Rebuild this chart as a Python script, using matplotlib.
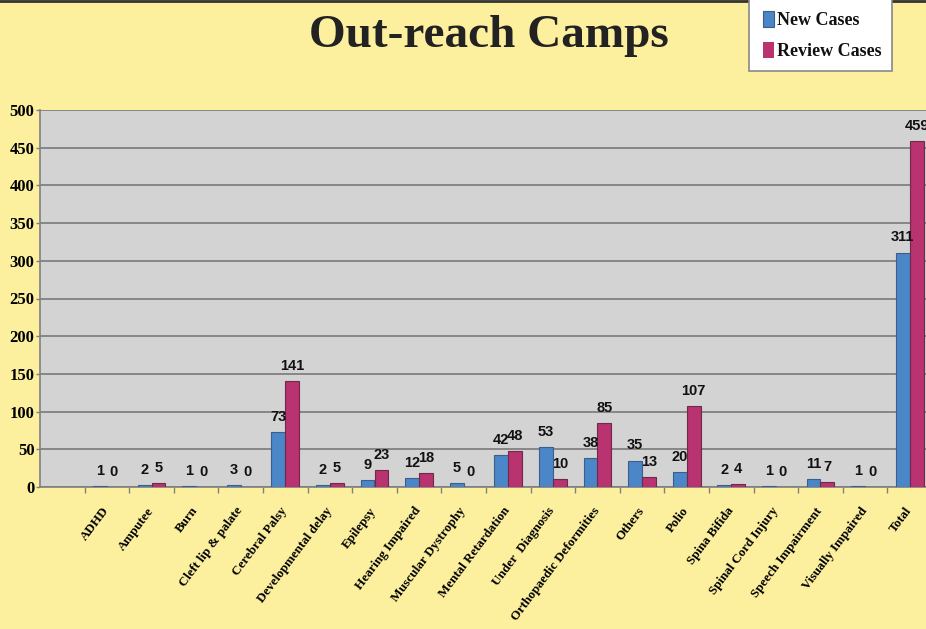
import matplotlib
matplotlib.use("Agg")
import matplotlib.pyplot as plt
import matplotlib.transforms as mtransforms
import numpy as np
from matplotlib.lines import Line2D
from matplotlib.patches import Rectangle

categories = ['ADHD', 'Amputee', 'Burn', 'Cleft lip & palate', 'Cerebral Palsy',
              'Developmental delay', 'Epilepsy', 'Hearing Impaired', 'Muscular Dystrophy',
              'Mental Retardation', 'Under  Diagnosis', 'Orthopaedic Deformities', 'Others',
              'Polio', 'Spina Bifida', 'Spinal Cord Injury', 'Speech Impairment',
              'Visually Impaired', 'Total']
new_cases = [1, 2, 1, 3, 73, 2, 9, 12, 5, 42, 53, 38, 35, 20, 2, 1, 11, 1, 311]
review_cases = [0, 5, 0, 0, 141, 5, 23, 18, 0, 48, 10, 85, 13, 107, 4, 0, 7, 0, 459]
y_ticks = list(range(0, 501, 50))

BG = '#FCEF9E'
PLOT_BG = '#D3D3D3'
BLUE = '#4A86C8'
PINK = '#B8336F'
GRID = '#808080'

fig = plt.figure(figsize=(9.26, 6.29), dpi=100, facecolor=BG)
ax = fig.add_axes([40/926, 1-487/629, (932-40)/926, (487-110)/629])
ax.set_facecolor(PLOT_BG)

x = np.arange(len(categories))
w = 0.31
lw_new = [0.8 if v > 0 else 0 for v in new_cases]
lw_rev = [0.8 if v > 0 else 0 for v in review_cases]
ax.bar(x - w/2, new_cases, w, color=BLUE, edgecolor='#3A5F8A', linewidth=lw_new, zorder=3)
ax.bar(x + w/2, review_cases, w, color=PINK, edgecolor='#6E2A48', linewidth=lw_rev, zorder=3)

lab_font = dict(family='Liberation Sans', weight='bold', size=10.5, color='#111111')
for xi, v in zip(x, new_cases):
    ax.annotate(str(v), (xi - w/2, v), xytext=(0, 8), textcoords='offset points',
                ha='center', va='baseline', clip_on=False, **lab_font)
for xi, v in zip(x, review_cases):
    ax.annotate(str(v), (xi + w/2, v), xytext=(0, 8), textcoords='offset points',
                ha='center', va='baseline', clip_on=False, **lab_font)

ax.set_xlim(-1.5, len(categories) - 0.5)
ax.set_ylim(0, 500)
ax.set_yticks(y_ticks)
ax.set_yticklabels([str(t) for t in y_ticks], family='Liberation Serif', weight='bold', fontsize=12)
ax.yaxis.grid(True, color=GRID, linewidth=1.3, zorder=1)
ax.set_axisbelow(True)

ax.set_xticks(np.arange(-0.5, len(categories) - 0.5, 1.0))
ax.set_xticklabels([])
ax.set_xticks(x, minor=True)
ax.set_xticklabels(categories, minor=True, rotation=53, ha='right', va='top',
                   rotation_mode='anchor', family='Liberation Serif', weight='bold', fontsize=9.4)
ax.tick_params(axis='x', which='minor', length=0, pad=13)
ax.tick_params(axis='x', which='major', length=4, color=GRID, width=1)
ax.tick_params(axis='y', length=3, color=GRID, width=1, pad=1)
shift = mtransforms.ScaledTranslation(-5/100, 0, fig.dpi_scale_trans)
for lab in ax.get_xticklabels(minor=True):
    lab.set_transform(lab.get_transform() + shift)

for s in ['top', 'right']:
    ax.spines[s].set_visible(False)
for s in ['left', 'bottom']:
    ax.spines[s].set_color(GRID)
    ax.spines[s].set_linewidth(1.2)

fig.text(489/926, 1-47/629, 'Out-reach Camps', ha='center', va='baseline',
         family='Liberation Serif', weight='bold', fontsize=34, color='#222222')

# legend frame drawn as a figure rectangle (its top runs off the slide)
fig.add_artist(Rectangle((749/926, 1-71/629), 143/926, 80/629, transform=fig.transFigure,
                         facecolor='white', edgecolor='#888888', linewidth=1.2, zorder=4))
leg = fig.legend(['New Cases', 'Review Cases'], loc='upper left',
                 bbox_to_anchor=(763/926, 1-11/629), frameon=False,
                 prop=dict(family='Liberation Serif', weight='bold', size=13),
                 handlelength=0.6, handleheight=1.0, handletextpad=0.15,
                 labelspacing=0.68, borderpad=0, borderaxespad=0)
leg.set_zorder(5)
for t in leg.get_texts():
    t.set_color('#111111')

fig.add_artist(Line2D([0, 1], [1-1/629, 1-1/629], color='#333333', linewidth=2))

fig.savefig('out.png', dpi=100, facecolor=BG)
